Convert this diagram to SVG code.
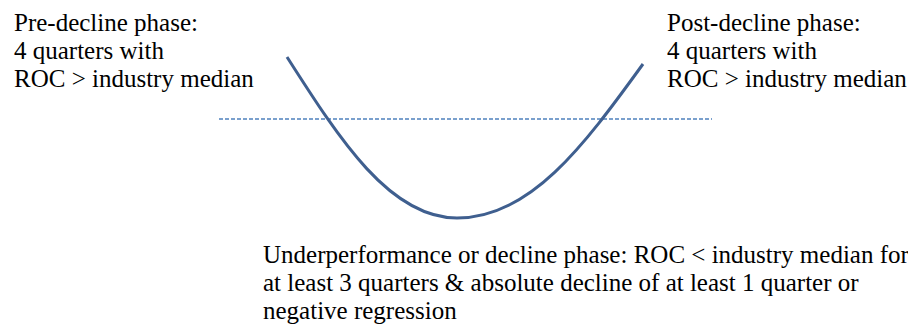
<svg xmlns="http://www.w3.org/2000/svg" width="908" height="330" viewBox="0 0 908 330">
<rect width="908" height="330" fill="#ffffff"/>
<g id="connectors">
<path id="median-line" fill="none" stroke="#4f81bd" stroke-width="1.5" stroke-dasharray="4 2" d="M219,119 H712"/>
<path id="roc-curve" fill="none" stroke="#3f5f8f" stroke-width="3" d="M287,57 C340,140 390,218 457,218 C530,218 583,147 643,64"/>
</g>
<g id="pre-decline">
<text x="14" y="31" font-family="Times New Roman" font-size="25">Pre-decline phase:</text>
<text x="14" y="59" font-family="Times New Roman" font-size="25">4 quarters with</text>
<text x="14" y="87" font-family="Times New Roman" font-size="25">ROC &gt; industry median</text>
</g>
<g id="post-decline">
<text x="667" y="31" font-family="Times New Roman" font-size="25">Post-decline phase:</text>
<text x="667" y="59" font-family="Times New Roman" font-size="25">4 quarters with</text>
<text x="667" y="87" font-family="Times New Roman" font-size="25">ROC &gt; industry median</text>
</g>
<g id="decline">
<text x="263" y="263" font-family="Times New Roman" font-size="25">Underperformance or decline phase: ROC &lt; industry median for</text>
<text x="263" y="291" font-family="Times New Roman" font-size="25">at least 3 quarters &amp; absolute decline of at least 1 quarter or</text>
<text x="263" y="319" font-family="Times New Roman" font-size="25">negative regression</text>
</g>
</svg>
